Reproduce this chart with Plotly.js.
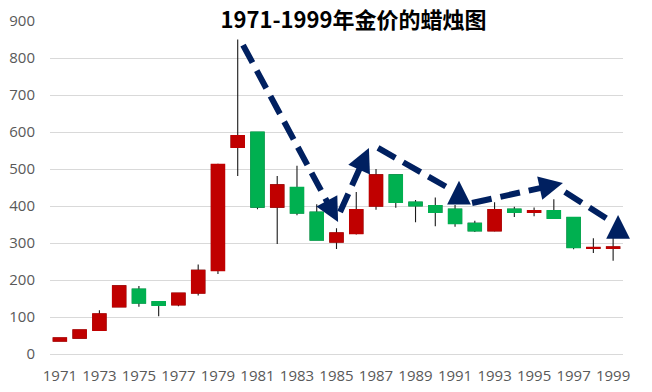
<!DOCTYPE html>
<html>
<head>
<meta charset="utf-8">
<script src="https://cdn.plot.ly/plotly-3.0.1.min.js"></script>
<style>html,body{margin:0;padding:0;background:#fff;}#chart{width:652px;height:392px;}</style>
</head>
<body>
<div id="chart"></div>
<script>
// ---- data ----
const years = [1971,1972,1973,1974,1975,1976,1977,1978,1979,1980,1981,1982,1983,1984,1985,1986,1987,1988,1989,1990,1991,1992,1993,1994,1995,1996,1997,1998,1999];
const openP  = [35,43,64,128,175,141,133,165,226,559,599,397,450,383,303,326,400,484,410,401,391,353,333,391,383,387,369,286,286];
const highP  = [44,66,118,185,184,141,165,242,514,850,600,481,509,405,340,438,500,484,416,423,403,360,410,398,396,418,369,313,340];
const lowP   = [35,43,62,127,128,102,129,158,216,481,391,297,375,307,284,323,390,395,356,345,344,330,331,370,372,366,283,273,252];
const closeP = [43,65,108,184,138,132,164,226,512,590,397,457,381,308,327,390,484,410,401,383,353,333,390,383,387,367,288,288,289];
const tickYears = [1971,1973,1975,1977,1979,1981,1983,1985,1987,1989,1991,1993,1995,1997,1999];
const yTicks = [0,100,200,300,400,500,600,700,800,900];
const titleText = '1971-1999年金价的蜡烛图';

// trend arrows (annotation decoration): start, line end, head point, head direction
const arrowStart = [[1980.27,835],[1985.18,384],[1987.10,557],[1991.86,408],[1996.56,438]];
const arrowTip   = [[1985.08,357],[1986.64,557],[1991.20,468],[1996.46,462],[1999.25,376]];
const arrowLineEnd = [[1984.79,385],[1986.39,527],[1990.85,443],[1995.87,455],[1998.94,357]];
const arrowHeadUp = [false,false,true,false,true];

// ---- geometry helpers ----
const W = 652, H = 392, M = {l:50, r:29, t:21, b:38};
const pw = W - M.l - M.r, ph = H - M.t - M.b;
const xr = [1970.5, 1999.5], yr = [0, 900];
const px = x => M.l + (x - xr[0]) / (xr[1] - xr[0]) * pw;
const py = y => M.t + (yr[1] - y) / (yr[1] - yr[0]) * ph;

const bodyHigh = openP.map((o,i) => Math.max(o, closeP[i]));
const bodyLow  = openP.map((o,i) => Math.min(o, closeP[i]));

const RED = '#c00000', GREEN = '#00b050', NAVY = '#002060';

const traces = [
  { type:'candlestick', x:years, open:openP, high:highP, low:lowP, close:closeP,
    increasing:{line:{color:'#1a1a1a', width:1.1}, fillcolor:'#1a1a1a'},
    decreasing:{line:{color:'#1a1a1a', width:1.1}, fillcolor:'#1a1a1a'},
    hoverinfo:'skip', showlegend:false },
  { type:'candlestick', x:years, open:openP, high:bodyHigh, low:bodyLow, close:closeP,
    increasing:{line:{color:RED, width:1.5}, fillcolor:RED},
    decreasing:{line:{color:GREEN, width:1.5}, fillcolor:GREEN},
    hoverinfo:'skip', showlegend:false }
];

const shapes = arrowStart.map((s,i) => ({
  type:'line', xref:'x', yref:'y', layer:'above',
  x0:s[0], y0:s[1], x1:arrowLineEnd[i][0], y1:arrowLineEnd[i][1],
  line:{color:NAVY, width:6, dash:'20px,9px'}
}));

const annotations = arrowTip.map((t,i) => {
  let ax, ay;
  if (arrowHeadUp[i]) { ax = 0; ay = 20; }
  else {
    const dx = px(t[0]) - px(arrowStart[i][0]);
    const dy = py(t[1]) - py(arrowStart[i][1]);
    const n = Math.hypot(dx, dy);
    ax = -dx / n * 20; ay = -dy / n * 20;
  }
  return { x:t[0], y:t[1], xref:'x', yref:'y', ax:ax, ay:ay, text:'',
    showarrow:true, arrowhead:2, arrowsize:0.95, arrowwidth:5, arrowcolor:NAVY };
});

const tickFont = {family:'"Open Sans", "Noto Sans", sans-serif', size:15, color:'#595959'};

const layout = {
  width:W, height:H, margin:M, paper_bgcolor:'#fff', plot_bgcolor:'#fff',
  showlegend:false, hovermode:false,
  boxgap:0.34, boxgroupgap:0, boxmode:'overlay',
  title:{ text:'<b>'+titleText+'</b>', x:353.5/W, xanchor:'center', xref:'container',
          y:1-20/H, yanchor:'middle', yref:'container',
          font:{family:'"Noto Sans CJK SC", "Noto Sans", sans-serif', size:22, color:'#000'} },
  xaxis:{ type:'linear', range:xr, tickmode:'array', tickvals:tickYears, ticktext:tickYears.map(String),
          showgrid:false, zeroline:false, showline:false, ticks:'', tickfont:tickFont,
          ticklabelstandoff:11, rangeslider:{visible:false}, fixedrange:true },
  yaxis:{ range:yr, tickmode:'array', tickvals:yTicks, ticktext:yTicks.map(String),
          showgrid:true, gridcolor:'#d9d9d9', gridwidth:1, zeroline:true, zerolinecolor:'#d9d9d9',
          zerolinewidth:1, showline:false, ticks:'', tickfont:tickFont, ticklabelstandoff:14, fixedrange:true },
  shapes:shapes, annotations:annotations
};

Plotly.newPlot('chart', traces, layout, {staticPlot:true, displayModeBar:false});
</script>
</body>
</html>
